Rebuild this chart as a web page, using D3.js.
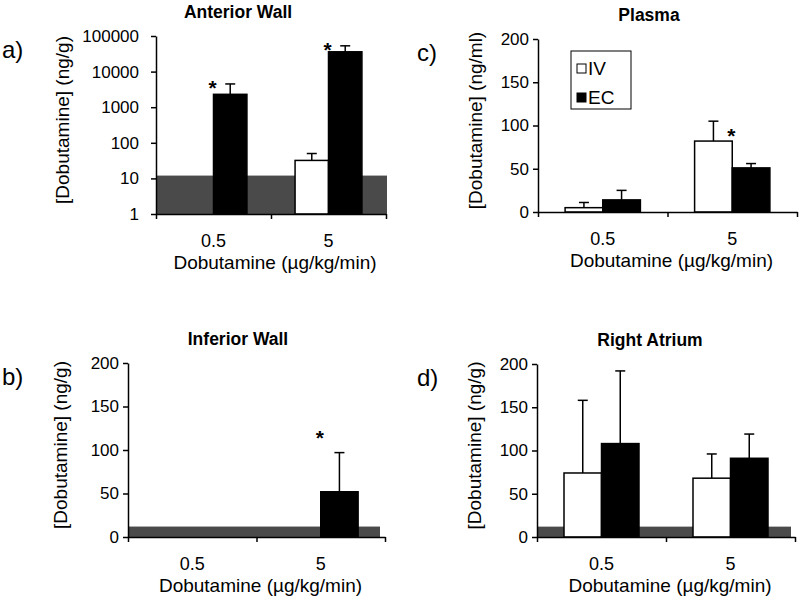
<!doctype html>
<html lang="en">
<head>
  <meta charset="UTF-8">
  <title>Dobutamine concentrations</title>
  <script src="https://d3js.org/d3.v7.min.js"></script>
  <style>
    body { margin: 0; background: #fff; }
    text { font-family: "Liberation Sans", Arial, sans-serif; fill: #000; }
  </style>
</head>
<body>
  <div id="myDiv"></div>
  <script type="text/javascript">
    // dose groups and the two delivery routes
    var doses = ["0.5", "5"];
    var routes = ["IV", "EC"];

    // anterior wall (ng/g), log axis
    var anteriorIV = [null, 32];
    var anteriorIVErr = [null, 18];
    var anteriorEC = [2300, 36000];
    var anteriorECErr = [2200, 17000];
    var anteriorStars = [{dose: "0.5", value: 4700}, {dose: "5", value: 55000}];
    var logTicks = [1, 10, 100, 1000, 10000, 100000];

    // plasma (ng/ml)
    var plasmaIV = [5, 82];
    var plasmaIVErr = [6, 23];
    var plasmaEC = [14, 51];
    var plasmaECErr = [11, 5];
    var plasmaStars = [{dose: "5", value: 94}];

    // inferior wall (ng/g)
    var inferiorIV = [0, 0];
    var inferiorIVErr = [0, 0];
    var inferiorEC = [0, 52];
    var inferiorECErr = [0, 45];
    var inferiorStars = [{dose: "5", value: 119}];

    // right atrium (ng/g)
    var atriumIV = [74, 68];
    var atriumIVErr = [84, 28];
    var atriumEC = [108, 91];
    var atriumECErr = [84, 28];

    var linTicks = [0, 50, 100, 150, 200];
    // detection limit shown as the grey band
    var detectLimit = 12;

    var svg = d3.select("#myDiv").append("svg")
      .attr("width", 800)
      .attr("height", 598);

    function rows(iv, ivErr, ec, ecErr) {
      var out = [];
      doses.forEach(function(d, i) {
        out.push({dose: d, route: "IV", value: iv[i], err: ivErr[i]});
        out.push({dose: d, route: "EC", value: ec[i], err: ecErr[i]});
      });
      return out;
    }

    function panel(p) {
      var g = svg.append("g");
      var y = p.log
        ? d3.scaleLog().domain([1, 100000]).range([p.bottom, p.top])
        : d3.scaleLinear().domain([0, 200]).range([p.bottom, p.top]);
      var base = p.log ? 1 : 0;
      var x0 = d3.scaleBand().domain(doses).range([p.left, p.right]);
      var x1 = d3.scaleBand().domain(routes).range([0, x0.bandwidth()]).paddingOuter(0.72);

      // grey band for the detection limit
      if (p.band) {
        g.append("rect")
          .attr("x", p.left)
          .attr("y", y(detectLimit))
          .attr("width", p.bandRight - p.left)
          .attr("height", y(base) - y(detectLimit))
          .attr("fill", "#4a4a4a");
      }

      var data = p.data.filter(function(d) { return d.value; });
      g.selectAll("rect.bar").data(data).enter().append("rect")
        .attr("class", "bar")
        .attr("x", function(d) { return x0(d.dose) + x1(d.route); })
        .attr("y", function(d) { return y(d.value); })
        .attr("width", x1.bandwidth())
        .attr("height", function(d) { return y(base) - y(d.value); })
        .attr("fill", function(d) { return d.route == "IV" ? "#fff" : "#000"; })
        .attr("stroke", "#000")
        .attr("stroke-width", 1.5);

      // upper error bars only
      var eb = g.selectAll("g.err").data(data.filter(function(d) { return d.err; })).enter().append("g")
        .attr("transform", function(d) {
          return "translate(" + (x0(d.dose) + x1(d.route) + x1.bandwidth() / 2) + ",0)";
        });
      eb.append("line")
        .attr("y1", function(d) { return y(d.value); })
        .attr("y2", function(d) { return y(d.value + d.err); })
        .attr("stroke", "#000").attr("stroke-width", 1.5);
      eb.append("line")
        .attr("x1", -5).attr("x2", 5)
        .attr("y1", function(d) { return y(d.value + d.err); })
        .attr("y2", function(d) { return y(d.value + d.err); })
        .attr("stroke", "#000").attr("stroke-width", 1.5);

      // significance asterisks
      g.selectAll("text.star").data(p.stars || []).enter().append("text")
        .attr("x", function(d) { return x0(d.dose) + x1("EC") - 1; })
        .attr("y", function(d) { return y(d.value) + 12; })
        .attr("text-anchor", "middle")
        .style("font-size", "21px")
        .style("font-weight", "bold")
        .text("*");

      // y axis
      var yAxis = d3.axisLeft(y).tickValues(p.log ? logTicks : linTicks)
        .tickFormat(d3.format("d")).tickSize(5).tickSizeOuter(0);
      var ya = g.append("g").attr("transform", "translate(" + p.left + ",0)").call(yAxis);
      ya.selectAll("text").style("font-size", "17px").attr("x", p.log ? -17 : -9);

      // x axis: ticks at the group boundaries, labels under the groups
      var xb = d3.scaleLinear().domain([0, doses.length]).range([p.left, p.right]);
      var xAxis = d3.axisBottom(xb).tickValues([0, 1, 2]).tickFormat("").tickSize(5).tickSizeOuter(0);
      g.append("g").attr("transform", "translate(0," + p.bottom + ")").call(xAxis);
      g.selectAll(".domain, .tick line").attr("stroke", "#000").attr("stroke-width", 1.5);

      g.selectAll("text.cat").data(doses).enter().append("text")
        .attr("x", function(d) { return x0(d) + x0.bandwidth() / 2; })
        .attr("y", p.bottom + 33)
        .attr("text-anchor", "middle")
        .style("font-size", "18px")
        .text(function(d) { return d; });

      g.append("text")
        .attr("x", (p.left + p.right) / 2 + 4)
        .attr("y", p.bottom + 55)
        .attr("text-anchor", "middle")
        .style("font-size", "19px")
        .text("Dobutamine (\u00b5g/kg/min)");

      g.append("text")
        .attr("transform", "translate(" + (p.ylabX + 7) + "," + ((p.top + p.bottom) / 2 - 5) + ") rotate(-90)")
        .attr("text-anchor", "middle")
        .style("font-size", "19px")
        .text(p.ylab);

      g.append("text")
        .attr("x", p.titleX)
        .attr("y", p.top - 18)
        .attr("text-anchor", "middle")
        .style("font-size", "17.5px")
        .style("font-weight", "bold")
        .text(p.title);

      g.append("text")
        .attr("x", p.letterX)
        .attr("y", p.top + 22)
        .style("font-size", "24px")
        .text(p.letter);

      return {x0: x0, x1: x1, y: y};
    }

    panel({title: "Anterior Wall", letter: "a)", log: true, band: true,
      left: 156, right: 386, bandRight: 387, top: 36, bottom: 214, ylabX: 62, titleX: 238, letterX: 2,
      ylab: "[Dobutamine] (ng/g)",
      data: rows(anteriorIV, anteriorIVErr, anteriorEC, anteriorECErr), stars: anteriorStars});

    panel({title: "Plasma", letter: "c)", band: false,
      left: 538, right: 797, top: 39, bottom: 212, ylabX: 475, titleX: 649, letterX: 417,
      ylab: "[Dobutamine] (ng/ml)",
      data: rows(plasmaIV, plasmaIVErr, plasmaEC, plasmaECErr), stars: plasmaStars});

    panel({title: "Inferior Wall", letter: "b)", band: true,
      left: 128, right: 385, bandRight: 380, top: 363, bottom: 537, ylabX: 60, titleX: 238, letterX: 2,
      ylab: "[Dobutamine] (ng/g)",
      data: rows(inferiorIV, inferiorIVErr, inferiorEC, inferiorECErr), stars: inferiorStars});

    panel({title: "Right Atrium", letter: "d)", band: true,
      left: 537, right: 795, bandRight: 791, top: 364, bottom: 537, ylabX: 474, titleX: 650, letterX: 417,
      ylab: "[Dobutamine] (ng/g)",
      data: rows(atriumIV, atriumIVErr, atriumEC, atriumECErr), stars: []});

    // legend in the plasma panel
    var legend = svg.append("g").attr("transform", "translate(571,51)");
    legend.append("rect").attr("width", 60).attr("height", 58)
      .attr("fill", "#fff").attr("stroke", "#000").attr("stroke-width", 1);
    legend.selectAll("rect.key").data(routes).enter().append("rect")
      .attr("class", "key")
      .attr("x", 6).attr("y", function(d, i) { return 13 + i * 29; })
      .attr("width", 9).attr("height", 9)
      .attr("fill", function(d) { return d == "IV" ? "#fff" : "#000"; })
      .attr("stroke", "#000").attr("stroke-width", 1);
    legend.selectAll("text").data(routes).enter().append("text")
      .attr("x", 17).attr("y", function(d, i) { return 24 + i * 29; })
      .style("font-size", "19px")
      .text(function(d) { return d; });
  </script>
</body>
</html>
